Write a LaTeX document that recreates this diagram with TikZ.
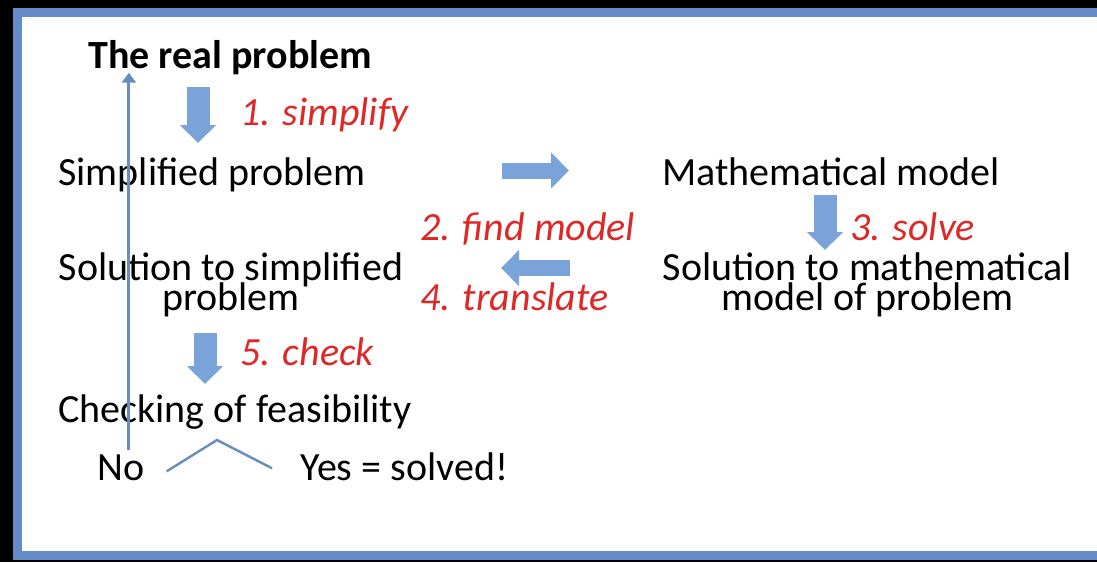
\documentclass[tikz,border=0pt]{standalone}
\usepackage{fontspec}
\setmainfont{Carlito}
\usetikzlibrary{arrows.meta}

\definecolor{frameblue}{RGB}{100,140,200}
\definecolor{arrowblue}{RGB}{122,163,218}
\definecolor{lineblue}{RGB}{105,140,190}
\definecolor{stepred}{RGB}{222,40,40}

\begin{document}
\begin{tikzpicture}[
	x=0.5pt, y=-0.5pt,
	txt/.style={font=\fontsize{20}{24}\selectfont, inner sep=0pt, anchor=base west},
	steplabel/.style={txt, text=stepred, font=\fontsize{20}{24}\selectfont\itshape},
	blockarrow/.style={line width=11.5pt, arrowblue, -{Triangle[width=17.5pt,length=9pt]}},
	sidearrow/.style={line width=8pt, arrowblue, -{Triangle[width=17.5pt,length=9pt]}},
	backline/.style={line width=1.5pt, lineblue, -{Triangle[width=7pt,length=5pt]}},
	frame/.style={line width=4.5pt, frameblue}
	]
	
	% ======================
	% Rahmen
	% ======================
	\useasboundingbox (0,0) rectangle (1097,562);
	\fill[black] (0,0) rectangle (1097,562);
	\fill[white] (17.5,12) rectangle (1120,555.5);
	\draw[frame] (17.5,12) rectangle (1120,555.5);
	
	% ======================
	% linke Spalte
	% ======================
	\node[txt, font=\fontsize{20}{24}\selectfont\bfseries] (real) at (88,68) {The real problem};
	\node[steplabel] (simplify) at (240,125) {1. simplify};
	\node[txt] (simp) at (58,185) {Simplified problem};
	% Basis = letzte Zeile
	\node[txt, anchor=base, align=center] (solsimp) at (231,310) {Solution to simplified\\[-9pt]problem};
	\node[steplabel] (check) at (240,365) {5. check};
	\node[txt] (feas) at (58,422) {Checking of feasibility};
	\node[txt] (no) at (97,480) {No};
	\node[txt] (yes) at (300,480) {Yes = solved!};
	
	% ======================
	% Mitte und rechts
	% ======================
	\node[steplabel] (findmodel) at (420,240) {2. find model};
	\node[steplabel] (translate) at (420,310) {4. translate};
	\node[txt] (math) at (662,185) {Mathematical model};
	\node[steplabel] (solve) at (850,240) {3. solve};
	\node[txt, anchor=base, align=center] (solmath) at (867.5,310) {Solution to mathematical\\[-9pt]model of problem};
	
	% Blockpfeile
	\coordinate (a1s) at (198,87);  \coordinate (a1e) at (198,143);
	\coordinate (a2s) at (502,170.5); \coordinate (a2e) at (569,170.5);
	\coordinate (a3s) at (825,195); \coordinate (a3e) at (825,250);
	\coordinate (a4s) at (570,268); \coordinate (a4e) at (501,268);
	\coordinate (a5s) at (205,333); \coordinate (a5e) at (205,384);
	
	\draw[blockarrow] (a1s) -- (a1e);
	\draw[sidearrow] (a2s) -- (a2e);
	\draw[blockarrow] (a3s) -- (a3e);
	\draw[sidearrow] (a4s) -- (a4e);
	\draw[blockarrow] (a5s) -- (a5e);
	
	% Rueckweg und Verzweigung
	\coordinate (split) at (217,440);
	\draw[backline] ([xshift=4pt,yshift=2pt]no.north) -- ([xshift=4pt,yshift=1pt]no.north |- real.south);
	\draw[lineblue, line width=1.2pt] ([xshift=11pt,yshift=-2pt]no.east) -- (split) -- ([xshift=-14pt,yshift=-1pt]yes.west);
	
\end{tikzpicture}
\end{document}
